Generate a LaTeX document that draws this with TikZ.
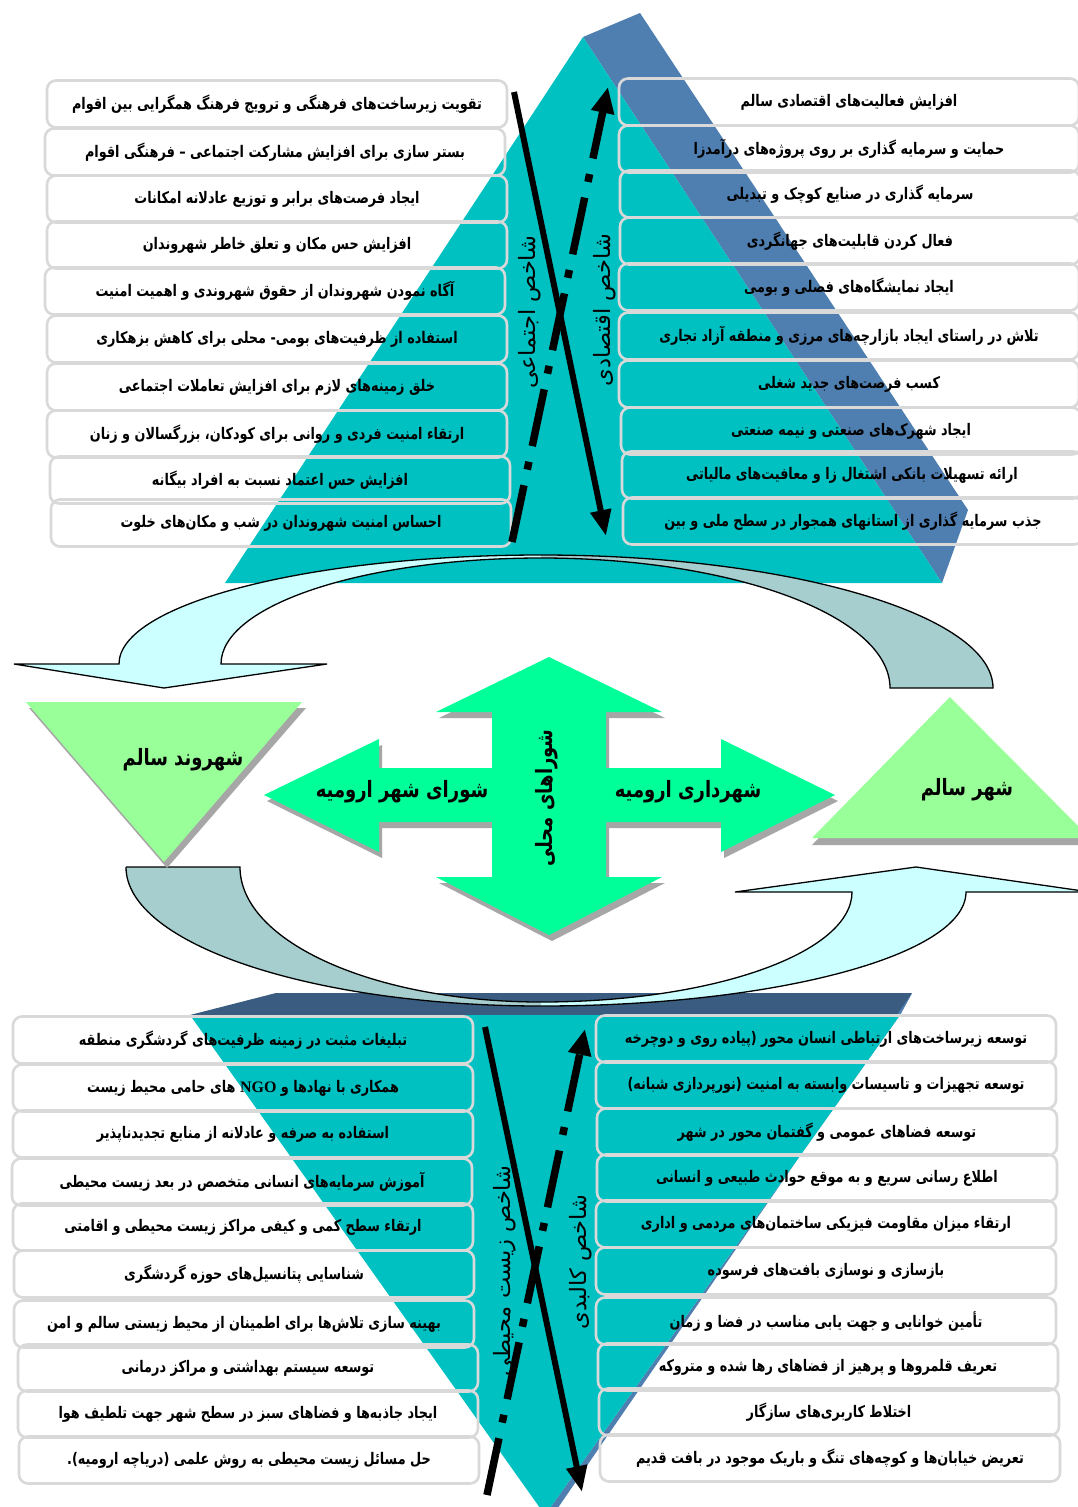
\documentclass[tikz,border=0pt]{standalone}
\usepackage{fontspec}
\usetikzlibrary{arrows.meta}
\TeXXeTstate=1
\newfontfamily\fafont[Script=Arabic, FakeStretch=0.8]{DejaVu Sans}
\newfontfamily\favert[Script=Arabic]{DejaVu Sans}
\newfontfamily\ngofont{Liberation Serif}
\newcommand\fa[1]{{\fafont\beginR#1\endR}}
\newcommand\fv[1]{{\favert\beginR#1\endR}}
\definecolor{pyrteal}{RGB}{0,193,194}
\definecolor{blueface}{RGB}{78,127,176}
\definecolor{navyface}{RGB}{58,92,128}
\definecolor{boxgrey}{RGB}{217,217,217}
\definecolor{lightcyan}{RGB}{204,255,255}
\definecolor{greyteal}{RGB}{166,206,206}
\definecolor{lightgreen}{RGB}{153,255,153}
\definecolor{arrowgreen}{RGB}{0,255,153}
\definecolor{shadowgrey}{RGB}{166,166,166}
\begin{document}
\begin{tikzpicture}[x=1pt,y=-1pt,
 ubox/.style={draw=boxgrey, line width=2.6pt, rounded corners=9pt, minimum width=460pt, minimum height=47pt, inner sep=0pt, font=\bfseries\fontsize{16}{18}\selectfont},
 ctext/.style={font=\bfseries\fontsize{22.5}{26}\selectfont, inner sep=0pt},
 vlabel/.style={font=\fontsize{22.5}{26}\selectfont, rotate=90, inner sep=0pt},
 solidarr/.style={line width=6pt, -{Triangle[length=26pt,width=20pt]}},
 dasharr/.style={line width=7.5pt, dash pattern=on 58pt off 16pt on 8pt off 16pt, -{Triangle[length=26pt,width=22pt]}},
 band/.style={draw=black, line width=1.3pt, line join=miter}
]
\useasboundingbox (0,0) rectangle (1078,1507);
\clip (0,0) rectangle (1078,1507);
\fill[white] (0,0) rectangle (1078,1507);

% upper pyramid
\fill[blueface] (583,37) -- (640,13) -- (968,510) -- (942,583) -- cycle;
\fill[pyrteal] (583,37) -- (225,583) -- (942,583) -- cycle;

% lower pyramid
\fill[navyface] (276,993) -- (912,993) -- (900,1015) -- (190,1015) -- cycle;
\fill[blueface] (912,993) -- (553,1515) -- (545,1515) -- (900,1015) -- cycle;
\fill[pyrteal] (190,1015) -- (900,1015) -- (545,1515) -- cycle;

% upper-left boxes (social)
\node[ubox] (s1) at (277,104) {\fa{تقویت زیرساخت^^^^200cهای فرهنگی و ترویج فرهنگ همگرایی بین اقوام}};
\node[ubox] (s2) at (275,152) {\fa{بستر سازی برای افزایش مشارکت اجتماعی – فرهنگی اقوام}};
\node[ubox] (s3) at (277,199) {\fa{ایجاد فرصت^^^^200cهای برابر و توزیع عادلانه امکانات}};
\node[ubox] (s4) at (277,245) {\fa{افزایش حس مکان و تعلق خاطر شهروندان}};
\node[ubox] (s5) at (275,291) {\fa{آگاه نمودن شهروندان از حقوق شهروندی و اهمیت امنیت}};
\node[ubox] (s6) at (277,339) {\fa{استفاده از ظرفیت^^^^200cهای بومی- محلی برای کاهش بزهکاری}};
\node[ubox] (s7) at (277,387) {\fa{خلق زمینه^^^^200cهای لازم برای افزایش تعاملات اجتماعی}};
\node[ubox] (s8) at (277,434) {\fa{ارتقاء امنیت فردی و روانی برای کودکان، بزرگسالان و زنان}};
\node[ubox] (s9) at (280,480) {\fa{افزایش حس اعتماد نسبت به افراد بیگانه}};
\node[ubox] (s10) at (281,523) {\fa{احساس امنیت شهروندان در شب و مکان^^^^200cهای خلوت}};

% upper-right boxes (economic)
\node[ubox] (e1) at (849,102) {\fa{افزایش فعالیت^^^^200cهای اقتصادی سالم}};
\node[ubox] (e2) at (849,149) {\fa{حمایت و سرمایه گذاری بر روی پروژه^^^^200cهای درآمدزا}};
\node[ubox] (e3) at (850,194) {\fa{سرمایه گذاری در صنایع کوچک و تبدیلی}};
\node[ubox] (e4) at (850,241) {\fa{فعال کردن قابلیت^^^^200cهای جهانگردی}};
\node[ubox] (e5) at (849,287) {\fa{ایجاد نمایشگاه^^^^200cهای فصلی و بومی}};
\node[ubox] (e6) at (849,336) {\fa{تلاش در راستای ایجاد بازارچه^^^^200cهای مرزی و منطقه آزاد تجاری}};
\node[ubox] (e7) at (849,384) {\fa{کسب فرصت^^^^200cهای جدید شغلی}};
\node[ubox] (e8) at (851,431) {\fa{ایجاد شهرک^^^^200cهای صنعتی و نیمه صنعتی}};
\node[ubox] (e9) at (852,475) {\fa{ارائه تسهیلات بانکی اشتغال زا و معافیت^^^^200cهای مالیاتی}};
\node[ubox] (e10) at (853,521) {\fa{جذب سرمایه گذاری از استانهای همجوار در سطح ملی و بین}};

% lower-left boxes (environment)
\node[ubox] (n1) at (243,1040) {\fa{تبلیغات مثبت در زمینه ظرفیت^^^^200cهای گردشگری منطقه}};
\node[ubox] (n2) at (243,1088) {\fa{همکاری با نهادها و \beginL{\ngofont NGO}\endL{} های حامی محیط زیست}};
\node[ubox] (n3) at (243,1134) {\fa{استفاده به صرفه و عادلانه از منابع تجدیدناپذیر}};
\node[ubox] (n4) at (242,1182) {\fa{آموزش سرمایه^^^^200cهای انسانی متخصص در بعد زیست محیطی}};
\node[ubox] (n5) at (243,1227) {\fa{ارتقاء سطح کمی و کیفی مراکز زیست محیطی و اقامتی}};
\node[ubox] (n6) at (244,1274) {\fa{شناسایی پتانسیل^^^^200cهای حوزه گردشگری}};
\node[ubox] (n7) at (244,1324) {\fa{بهینه سازی تلاش^^^^200cها برای اطمینان از محیط زیستی سالم و امن}};
\node[ubox] (n8) at (248,1368) {\fa{توسعه سیستم بهداشتی و مراکز درمانی}};
\node[ubox] (n9) at (248,1414) {\fa{ایجاد جاذبه^^^^200cها و فضاهای سبز در سطح شهر جهت تلطیف هوا}};
\node[ubox] (n10) at (249,1460) {\fa{حل مسائل زیست محیطی به روش علمی (دریاچه ارومیه).}};

% lower-right boxes (physical)
\node[ubox] (p1) at (826,1039) {\fa{توسعه زیرساخت^^^^200cهای ارتباطی انسان محور (پیاده روی و دوچرخه}};
\node[ubox] (p2) at (826,1085) {\fa{توسعه تجهیزات و تاسیسات وابسته به امنیت (نورپردازی شبانه)}};
\node[ubox] (p3) at (827,1132) {\fa{توسعه فضاهای عمومی و گفتمان محور در شهر}};
\node[ubox] (p4) at (827,1178) {\fa{اطلاع رسانی سریع و به موقع حوادث طبیعی و انسانی}};
\node[ubox] (p5) at (826,1224) {\fa{ارتقاء میزان مقاومت فیزیکی ساختمان^^^^200cهای مردمی و اداری}};
\node[ubox] (p6) at (826,1271) {\fa{بازسازی و نوسازی بافت^^^^200cهای فرسوده}};
\node[ubox] (p7) at (826,1321) {\fa{تأمین خوانایی و جهت یابی مناسب در فضا و زمان}};
\node[ubox] (p8) at (828,1367) {\fa{تعریف قلمروها و پرهیز از فضاهای رها شده و متروکه}};
\node[ubox] (p9) at (829,1412) {\fa{اختلاط کاربری^^^^200cهای سازگار}};
\node[ubox] (p10) at (830,1458) {\fa{تعریض خیابان^^^^200cها و کوچه^^^^200cهای تنگ و باریک موجود در بافت قدیم}};

% index arrows
\coordinate (ua1) at (514,92);  \coordinate (ua2) at (606,536);
\coordinate (ub1) at (512,542); \coordinate (ub2) at (608,87);
\coordinate (la1) at (485,1027); \coordinate (la2) at (582,1492);
\coordinate (lb1) at (487,1495); \coordinate (lb2) at (585,1029);
\draw[solidarr] (ua1) -- (ua2);
\draw[dasharr] (ub1) -- (ub2);
\draw[solidarr] (la1) -- (la2);
\draw[dasharr] (lb1) -- (lb2);

\node[vlabel] (social) at (530,312) {\fv{شاخص اجتماعی}};
\node[vlabel] (econ) at (605,310) {\fv{شاخص اقتصادی}};
\node[vlabel] (env) at (505,1271) {\fv{شاخص زیست محیطی}};
\node[vlabel] (phys) at (581,1262) {\fv{شاخص کالبدی}};

% upper curved arrow
\fill[lightcyan] (541,555) .. controls (308,555) and (119,604) .. (119,664) -- (14,664) -- (164,688) -- (327,664) -- (221,664) .. controls (221,605) and (364,558) .. (541,558) -- cycle;
\fill[greyteal] (541,555) .. controls (790,555) and (993,615) .. (993,688) -- (890,688) .. controls (890,616) and (734,558) .. (541,558) -- cycle;
\draw[band] (993,688) .. controls (993,615) and (790,555) .. (541,555) .. controls (308,555) and (119,604) .. (119,664) -- (14,664) -- (164,688) -- (327,664) -- (221,664) .. controls (221,605) and (364,558) .. (541,558) .. controls (734,558) and (890,616) .. (890,688) -- cycle;

% lower curved arrow
\fill[greyteal] (126,867) .. controls (126,944) and (312,1006) .. (541,1006) -- (541,1002) .. controls (375,1002) and (240,942) .. (240,867) -- cycle;
\fill[lightcyan] (541,1006) .. controls (776,1006) and (966,955) .. (966,892) -- (1090,892) -- (916,867) -- (735,892) -- (852,892) .. controls (852,953) and (713,1002) .. (541,1002) -- cycle;
\draw[band] (126,867) -- (240,867) .. controls (240,942) and (375,1002) .. (541,1002) .. controls (713,1002) and (852,953) .. (852,892) -- (735,892) -- (916,867) -- (1090,892) -- (966,892) .. controls (966,955) and (776,1006) .. (541,1006) .. controls (312,1006) and (126,944) .. (126,867);

% green triangles
\fill[shadowgrey] (29,708) -- (306,708) -- (167,868) -- cycle;
\fill[lightgreen] (26,702) -- (302,702) -- (164,862) -- cycle;
\fill[shadowgrey] (950,704) -- (1092,845) -- (812,845) -- cycle;
\fill[lightgreen] (950,697) -- (1090,838) -- (812,838) -- cycle;

% four-way arrow
\fill[shadowgrey, shift={(3,6)}] (549,657) -- (662,712) -- (606,712) -- (606,768) -- (721,768) -- (721,739) -- (835,795) -- (721,852) -- (721,822) -- (606,822) -- (606,877) -- (662,877) -- (549,935) -- (436,877) -- (492,877) -- (492,822) -- (379,822) -- (379,852) -- (264,795) -- (379,739) -- (379,768) -- (492,768) -- (492,712) -- (436,712) -- cycle;
\fill[arrowgreen] (549,657) -- (662,712) -- (606,712) -- (606,768) -- (721,768) -- (721,739) -- (835,795) -- (721,852) -- (721,822) -- (606,822) -- (606,877) -- (662,877) -- (549,935) -- (436,877) -- (492,877) -- (492,822) -- (379,822) -- (379,852) -- (264,795) -- (379,739) -- (379,768) -- (492,768) -- (492,712) -- (436,712) -- cycle;

\node[ctext] (citizen) at (183,760) {\fa{شهروند سالم}};
\node[ctext] (council) at (402,792) {\fa{شورای شهر ارومیه}};
\node[ctext] (munic) at (688,792) {\fa{شهرداری ارومیه}};
\node[ctext] (city) at (967,790) {\fa{شهر سالم}};
\node[ctext, rotate=90] (local) at (547,798) {\fa{شوراهای محلی}};
\end{tikzpicture}
\end{document}
